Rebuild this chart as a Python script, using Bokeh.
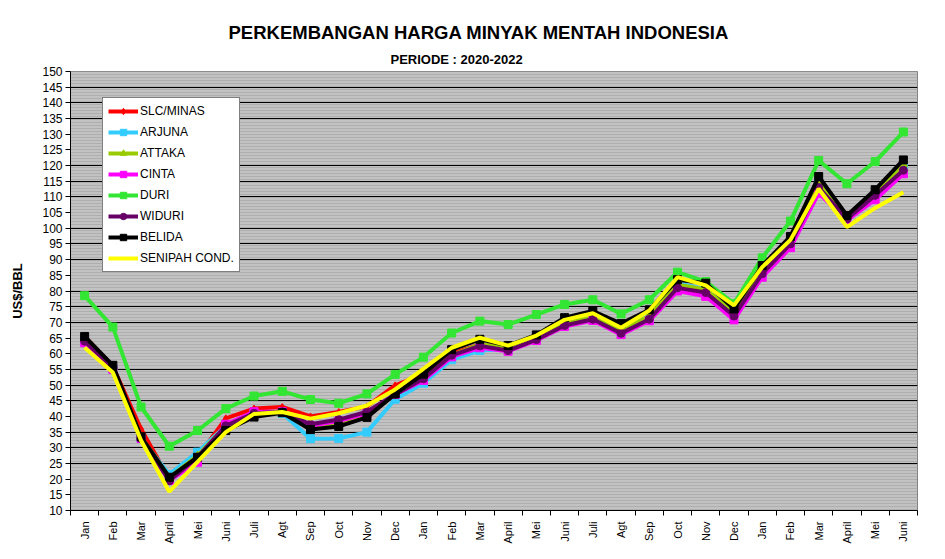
import math
from bokeh.plotting import figure
from bokeh.models import FixedTicker, BoxAnnotation, Title, Legend, LegendItem, Range1d
from bokeh.embed import file_html
from bokeh.resources import INLINE

months = ["Jan", "Feb", "Mar", "April", "Mei", "Juni", "Juli", "Agt", "Sep", "Oct", "Nov", "Dec",
          "Jan", "Feb", "Mar", "April", "Mei", "Juni", "Juli", "Agt", "Sep", "Oct", "Nov", "Dec",
          "Jan", "Feb", "Mar", "April", "Mei", "Juni"]

slc_minas = [65.5, 56, 36, 20, 27, 39.4, 42.5, 43, 40, 41.4, 43.2, 49.9,
             53.5, 60, 63, 61.5, 65, 70, 72, 67, 71.5, 81, 79.5, 72,
             85, 94.5, 112, 102.5, 110, 118]
arjuna = [64, 55, 33, 21.5, 28.6, 37, 41, 41, 32.9, 33, 35, 45.5,
          50.6, 58.1, 61, 61.5, 65, 69.5, 71.5, 67, 71, 82.5, 80.5, 73,
          85.5, 95, 114.5, 103, 110.5, 120]
attaka = [64.5, 55.5, 33.5, 20.5, 27.5, 37, 41, 41.5, 37, 38, 40.5, 47,
          52, 59.5, 63, 62, 65.5, 70, 72, 67.5, 72, 82, 80.5, 73,
          86, 95.5, 114.5, 103.5, 111, 120.5]
cinta = [63.5, 55, 33, 19.6, 25.4, 37.5, 41.5, 41.5, 37, 38.5, 41, 47,
         51.5, 59, 61.9, 60.8, 64.2, 68.7, 70.6, 66.1, 70.5, 80, 78.3, 70.8,
         84.4, 93.8, 111.2, 102.5, 109.1, 117.4]
duri = [78.5, 68.5, 43, 30.5, 35.5, 42.5, 46.5, 48, 45.4, 44.2, 47.2, 53.4,
        58.9, 66.6, 70.4, 69.3, 72.5, 75.7, 77.2, 72.7, 77.2, 86, 83, 76,
        90.6, 102.3, 121.6, 114.2, 121.3, 130.7]
widuri = [64, 55.5, 33, 19.5, 27, 37, 41, 41.5, 37.5, 39, 41.5, 47,
          52, 59.5, 62.5, 61, 64.5, 69, 71, 66.5, 71, 81, 79.5, 72,
          85.5, 95, 113, 103, 110.5, 118.5]
belida = [65.5, 56.3, 33.5, 20.6, 27, 35.5, 39.8, 41.2, 35.8, 36.8, 39.7, 47.2,
          53.5, 61.3, 64.6, 62.6, 66, 71.5, 73.6, 69.6, 74, 83.6, 82.5, 74.3,
          88.1, 97.4, 116.5, 104.1, 112.3, 121.8]
senipah = [62, 54, 32.3, 16, 25.5, 35, 40.8, 41.4, 39.3, 41, 43.5, 48.6,
           55.2, 61.9, 65.1, 62.6, 65.8, 70.8, 72.9, 68.3, 73.8, 84.4, 81.8, 75.4,
           87.6, 96.3, 112.6, 100.4, 106.5, 111.5]

series_names = ["SLC/MINAS", "ARJUNA", "ATTAKA", "CINTA", "DURI", "WIDURI", "BELIDA", "SENIPAH COND."]
series_values = [slc_minas, arjuna, attaka, cinta, duri, widuri, belida, senipah]
series_colors = ["#FF0000", "#33CCFF", "#99CC00", "#FF00FF", "#33E633", "#660066", "#000000", "#FFFF00"]
series_markers = ["diamond", "square", "triangle", "square", "square", "circle", "square", None]

FONT = "Liberation Sans"
x_idx = list(range(len(months)))

p = figure(width=938, height=550, output_backend="svg", toolbar_location=None,
           title=None,
           x_range=Range1d(-0.5, len(months) - 0.5), y_range=Range1d(10, 150),
           min_border_left=70, min_border_right=21, min_border_top=71, min_border_bottom=40)

p.background_fill_color = "#C2C2C2"
p.border_fill_color = "white"
p.outline_line_color = "#808080"

hatch = BoxAnnotation(fill_alpha=0, line_alpha=0, hatch_pattern="horizontal_line",
                      hatch_color="#AEAEAE", hatch_scale=3, hatch_weight=1, level="underlay")
p.add_layout(hatch)

p.xgrid.visible = False
p.ygrid.ticker = FixedTicker(ticks=list(range(10, 151, 5)))
p.ygrid.grid_line_color = "black"
p.ygrid.grid_line_width = 1
p.ygrid.level = "image"

p.yaxis.ticker = FixedTicker(ticks=list(range(10, 151, 5)))
p.yaxis.major_label_text_font = FONT
p.yaxis.major_label_text_font_size = "12px"
p.yaxis.major_label_text_color = "black"
p.yaxis.major_tick_out = 5
p.yaxis.major_tick_in = 0
p.yaxis.minor_tick_line_color = None
p.yaxis.axis_line_color = "black"
p.yaxis.major_label_standoff = 3
p.yaxis.axis_label = "US$/BBL"
p.yaxis.axis_label_text_font = FONT
p.yaxis.axis_label_text_font_size = "13px"
p.yaxis.axis_label_text_font_style = "bold"
p.yaxis.axis_label_text_color = "black"
p.yaxis.axis_label_standoff = 14

p.xaxis.ticker = FixedTicker(ticks=x_idx, minor_ticks=[i - 0.5 for i in range(len(months) + 1)])
p.xaxis.major_label_overrides = {i: m for i, m in enumerate(months)}
p.xaxis.major_label_orientation = math.pi / 2
p.xaxis.major_label_text_font = FONT
p.xaxis.major_label_text_font_size = "11px"
p.xaxis.major_label_text_color = "black"
p.xaxis.major_tick_out = 0
p.xaxis.major_tick_in = 0
p.xaxis.minor_tick_out = 5
p.xaxis.minor_tick_in = 0
p.xaxis.minor_tick_line_color = "black"
p.xaxis.axis_line_color = "black"
p.xaxis.major_label_standoff = 6

items = []
for name, vals, col, mk in zip(series_names, series_values, series_colors, series_markers):
    rs = [p.line(x_idx, vals, line_color=col, line_width=4)]
    if mk is not None:
        size = 7 if mk == "diamond" else 8
        rs.append(p.scatter(x_idx, vals, marker=mk, size=size, fill_color=col, line_color=col))
    items.append(LegendItem(label=name, renderers=rs))

legend = Legend(items=items, location=(32, 238))
legend.label_text_font = FONT
legend.label_text_font_size = "12px"
legend.label_text_color = "black"
legend.background_fill_color = "white"
legend.background_fill_alpha = 1
legend.border_line_color = "black"
legend.border_line_width = 1
legend.glyph_width = 30
legend.glyph_height = 16
legend.label_height = 16
legend.label_standoff = 2
legend.spacing = 5
legend.padding = 5
legend.margin = 0
p.add_layout(legend)

sub = Title(text="PERIODE  : 2020-2022", align="left", offset=320,
            text_font=FONT, text_font_size="13px", text_font_style="bold",
            text_color="black", standoff=10)
main = Title(text="PERKEMBANGAN HARGA MINYAK MENTAH INDONESIA", align="left", offset=158,
             text_font=FONT, text_font_size="18.5px", text_font_style="bold",
             text_color="black", standoff=4)
p.add_layout(sub, "above")
p.add_layout(main, "above")

open("out.html", "w").write(file_html(p, INLINE))
